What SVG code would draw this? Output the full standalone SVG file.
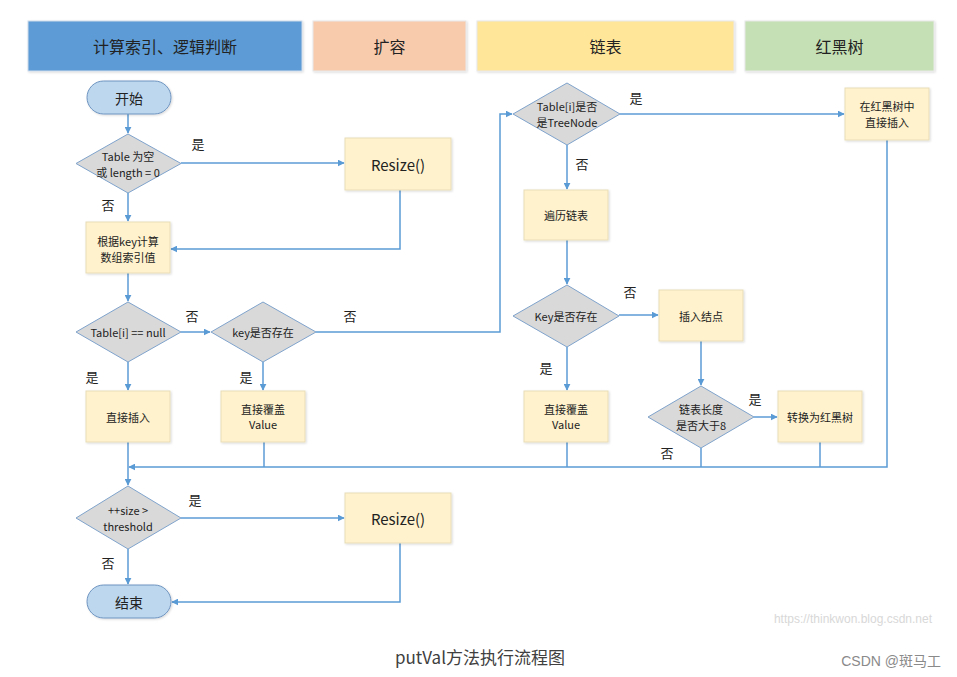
<svg xmlns="http://www.w3.org/2000/svg" width="957" height="677" viewBox="0 0 957 677">
<style>
text{font-family:"Noto Sans CJK SC","Liberation Sans",sans-serif;fill:#222;text-anchor:middle;dominant-baseline:central}
.hd{font-size:16px}
.box{fill:#FFF2CC;stroke:#E8DDB8;stroke-width:1}
.dia{fill:#D9D9D9;stroke:#7FA3CC;stroke-width:1}
.pill{fill:#BDD7EE;stroke:#6E94C0;stroke-width:1}
.t{font-size:11px}
.big{font-size:15px}
.lbl{font-size:13px}
.wm{font-family:"Liberation Sans","Noto Sans CJK SC",sans-serif}
.ln{fill:none;stroke:#5B9BD5;stroke-width:1.5}
</style>
<defs>
<marker id="ah" viewBox="0 0 10 10" refX="9" refY="5" markerWidth="7" markerHeight="7" orient="auto" markerUnits="userSpaceOnUse">
<path d="M0,0 L10,5 L0,10 z" fill="#5B9BD5"/>
</marker>
<filter id="sh" x="-10%" y="-10%" width="130%" height="130%">
<feDropShadow dx="1" dy="1" stdDeviation="1" flood-color="#000" flood-opacity="0.15"/>
</filter>
</defs>
<rect width="957" height="677" fill="#fff"/>

<g id="headers">
<rect x="28" y="21" width="274" height="50" fill="#5B9BD5" stroke="#D0DCEA" filter="url(#sh)"/>
<text class="hd" x="165" y="46">计算索引、逻辑判断</text>
<rect x="313" y="21" width="153" height="50" fill="#F8CBAD" stroke="#E8E8E8" filter="url(#sh)"/>
<text class="hd" x="389.5" y="46">扩容</text>
<rect x="477" y="21" width="257" height="50" fill="#FFE699" stroke="#E8E8E8" filter="url(#sh)"/>
<text class="hd" x="605.5" y="46">链表</text>
<rect x="745" y="21" width="189" height="50" fill="#C5E0B4" stroke="#E8E8E8" filter="url(#sh)"/>
<text class="hd" x="839.5" y="46">红黑树</text>
</g>

<g id="connectors">
<path class="ln" d="M128,114 V133" marker-end="url(#ah)"/>
<path class="ln" d="M181,163 H344" marker-end="url(#ah)"/>
<path class="ln" d="M128,193 V221" marker-end="url(#ah)"/>
<path class="ln" d="M400,190 V249 H171" marker-end="url(#ah)"/>
<path class="ln" d="M128,273 V301" marker-end="url(#ah)"/>
<path class="ln" d="M181,332 H210" marker-end="url(#ah)"/>
<path class="ln" d="M128,362 V390" marker-end="url(#ah)"/>
<path class="ln" d="M263,362 V390" marker-end="url(#ah)"/>
<path class="ln" d="M316,332 H500 V114 H512" marker-end="url(#ah)"/>
<path class="ln" d="M620,114 H844" marker-end="url(#ah)"/>
<path class="ln" d="M567,145 V189" marker-end="url(#ah)"/>
<path class="ln" d="M567,240 V284" marker-end="url(#ah)"/>
<path class="ln" d="M619,315 H658" marker-end="url(#ah)"/>
<path class="ln" d="M567,347 V390" marker-end="url(#ah)"/>
<path class="ln" d="M701,341 V385" marker-end="url(#ah)"/>
<path class="ln" d="M754,417 H777" marker-end="url(#ah)"/>
<path class="ln" d="M887,140 V467 H129" marker-end="url(#ah)"/>
<path class="ln" d="M264,442 V467"/>
<path class="ln" d="M567,442 V467"/>
<path class="ln" d="M701,448 V467"/>
<path class="ln" d="M820,442 V467"/>
<path class="ln" d="M128,442 V485" marker-end="url(#ah)"/>
<path class="ln" d="M181,518 H344" marker-end="url(#ah)"/>
<path class="ln" d="M128,549 V584" marker-end="url(#ah)"/>
<path class="ln" d="M400,543 V602 H172" marker-end="url(#ah)"/>
</g>

<g id="labels">
<text class="lbl" x="198" y="143">是</text>
<text class="lbl" x="108" y="204">否</text>
<text class="lbl" x="192" y="315">否</text>
<text class="lbl" x="350" y="315">否</text>
<text class="lbl" x="92" y="376">是</text>
<text class="lbl" x="246" y="376">是</text>
<text class="lbl" x="636" y="97">是</text>
<text class="lbl" x="582" y="163">否</text>
<text class="lbl" x="630" y="291">否</text>
<text class="lbl" x="546" y="367">是</text>
<text class="lbl" x="755" y="398">是</text>
<text class="lbl" x="667" y="452">否</text>
<text class="lbl" x="195" y="499">是</text>
<text class="lbl" x="108" y="562">否</text>
</g>

<g id="start">
<rect class="pill" x="87" y="81" width="84" height="33" rx="16.5" filter="url(#sh)"/>
<text x="129" y="97.5" font-size="14">开始</text>
</g>
<g id="d1">
<polygon class="dia" points="128,134 181,163.5 128,193 76,163.5"/>
<text class="t" x="128" y="156">Table 为空</text>
<text class="t" x="128" y="172">或 length = 0</text>
</g>
<g id="resize1">
<rect class="box" x="345" y="138" width="106" height="52" filter="url(#sh)"/>
<text class="big" x="398" y="164">Resize()</text>
</g>
<g id="calc">
<rect class="box" x="86" y="222" width="84" height="51" filter="url(#sh)"/>
<text class="t" x="128" y="241">根据key计算</text>
<text class="t" x="128" y="257">数组索引值</text>
</g>
<g id="d2">
<polygon class="dia" points="128,302 181,332 128,362 76,332"/>
<text class="t" x="128" y="332">Table[i] == null</text>
</g>
<g id="d3">
<polygon class="dia" points="263,302 316,332 263,362 211,332"/>
<text class="t" x="263" y="332">key是否存在</text>
</g>
<g id="insert1">
<rect class="box" x="86" y="391" width="84" height="51" filter="url(#sh)"/>
<text class="t" x="128" y="416.5">直接插入</text>
</g>
<g id="cover1">
<rect class="box" x="221" y="391" width="84" height="51" filter="url(#sh)"/>
<text class="t" x="263" y="409">直接覆盖</text>
<text class="t" x="263" y="424">Value</text>
</g>
<g id="d4">
<polygon class="dia" points="567,83 620,114 567,145 513,114"/>
<text class="t" x="567" y="106">Table[i]是否</text>
<text class="t" x="567" y="122">是TreeNode</text>
</g>
<g id="rbinsert">
<rect class="box" x="845" y="88" width="84" height="52" filter="url(#sh)"/>
<text class="t" x="887" y="106">在红黑树中</text>
<text class="t" x="887" y="122">直接插入</text>
</g>
<g id="traverse">
<rect class="box" x="524" y="190" width="84" height="50" filter="url(#sh)"/>
<text class="t" x="566" y="215">遍历链表</text>
</g>
<g id="d5">
<polygon class="dia" points="567,285 619,316 567,347 513,316"/>
<text class="t" x="566" y="316">Key是否存在</text>
</g>
<g id="insertnode">
<rect class="box" x="659" y="290" width="84" height="51" filter="url(#sh)"/>
<text class="t" x="701" y="315.5">插入结点</text>
</g>
<g id="cover2">
<rect class="box" x="524" y="391" width="84" height="51" filter="url(#sh)"/>
<text class="t" x="566" y="409">直接覆盖</text>
<text class="t" x="566" y="424">Value</text>
</g>
<g id="d6">
<polygon class="dia" points="701,386 754,417 701,448 648,417"/>
<text class="t" x="701" y="409">链表长度</text>
<text class="t" x="701" y="425">是否大于8</text>
</g>
<g id="totree">
<rect class="box" x="778" y="391" width="84" height="51" filter="url(#sh)"/>
<text class="t" x="820" y="416.5">转换为红黑树</text>
</g>
<g id="d7">
<polygon class="dia" points="128,486 181,518 128,549 76,518"/>
<text class="t" x="128" y="510">++size &gt;</text>
<text class="t" x="128" y="526">threshold</text>
</g>
<g id="resize2">
<rect class="box" x="345" y="493" width="106" height="50" filter="url(#sh)"/>
<text class="big" x="398" y="518">Resize()</text>
</g>
<g id="end">
<rect class="pill" x="87" y="585" width="84" height="33" rx="16.5" filter="url(#sh)"/>
<text x="129" y="601.5" font-size="14">结束</text>
</g>

<text class="wm" x="853" y="619" font-size="12" style="fill:#D8D8D8">https://thinkwon.blog.csdn.net</text>
<text x="480" y="656" font-size="17" style="fill:#404040">putVal方法执行流程图</text>
<text class="wm" x="941" y="661" font-size="14" style="fill:#8A8A8A;text-anchor:end">CSDN @斑马工</text>
</svg>
